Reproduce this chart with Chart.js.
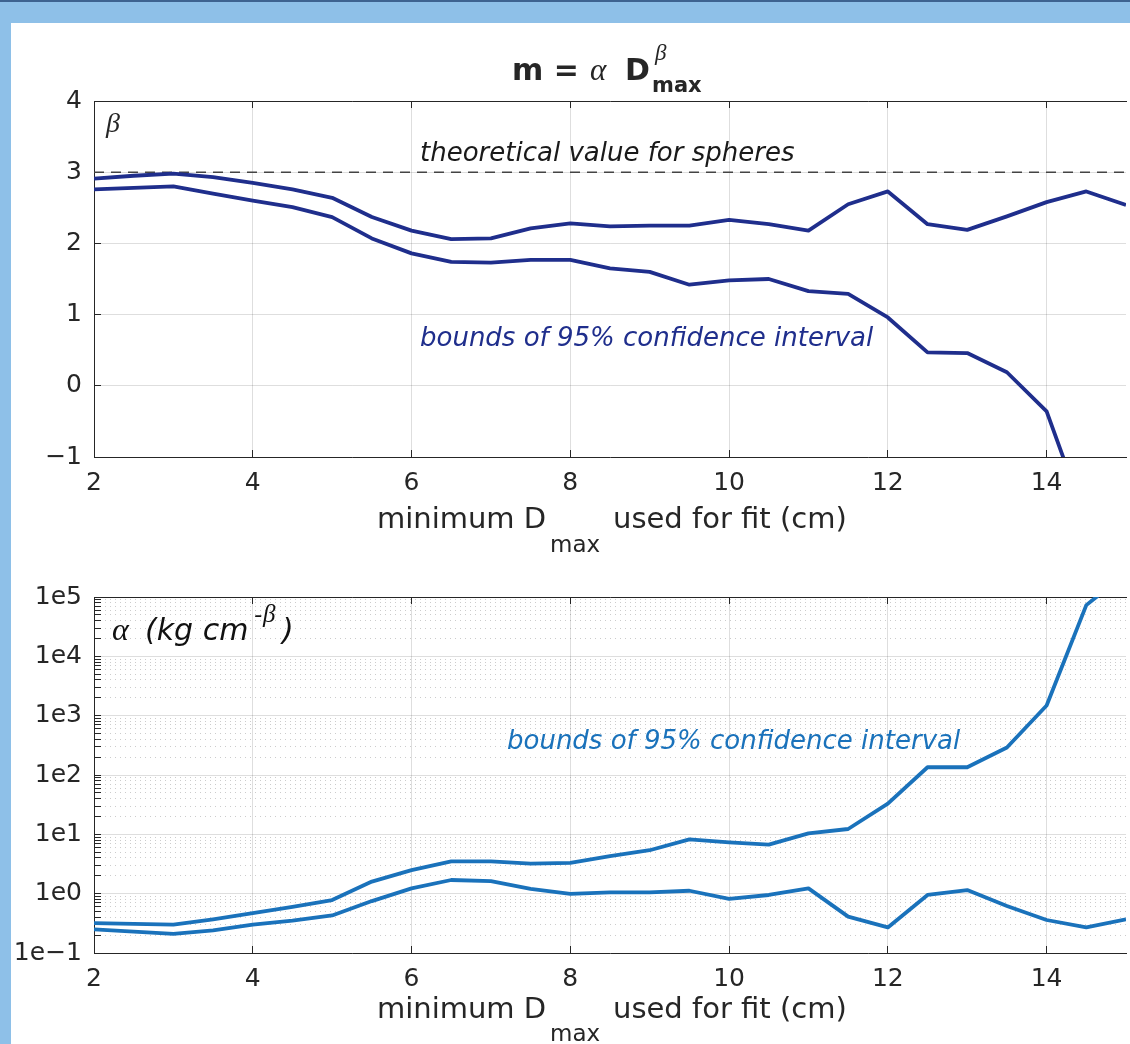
<!DOCTYPE html>
<html>
<head>
<meta charset="utf-8">
<title>m = α D^β max</title>
<script src="https://cdn.jsdelivr.net/npm/chart.js@4.4.1/dist/chart.umd.min.js"></script>
<style>
  body { margin: 0; width: 1130px; height: 1044px; overflow: hidden; position: relative; background: #8ec0e8; font-family: "DejaVu Sans", sans-serif; }
  #frame { position: absolute; left: 11px; top: 23px; width: 1119px; height: 1021px; background: #fff; }
  #edge { position: absolute; left: 0; top: 0; width: 1130px; height: 2px; background: #3e6390; }
  canvas { position: absolute; left: 0; }
  .lbl { position: absolute; white-space: nowrap; line-height: 1; color: #262626; }
  .mk { display: inline-block; width: 0; height: 0; vertical-align: baseline; }
  .gr { font-family: "Liberation Serif", serif; font-style: italic; font-weight: normal; }
</style>
</head>
<body>
<div id="edge"></div>
<div id="frame"></div>
<canvas id="betaChart" width="1130" height="420"></canvas>
<canvas id="alphaChart" width="1130" height="420"></canvas>
<script>
// datos
const xs = [2, 2.5, 3, 3.5, 4, 4.5, 5, 5.5, 6, 6.5, 7, 7.5, 8, 8.5, 9, 9.5, 10, 10.5, 11, 11.5, 12, 12.5, 13, 13.5, 14, 14.5, 15]

const betaUpper = [2.91, 2.95, 2.98, 2.93, 2.85, 2.76, 2.64, 2.37, 2.18, 2.06, 2.07, 2.21, 2.28, 2.24, 2.25, 2.25, 2.33, 2.27, 2.18, 2.55, 2.73, 2.27, 2.19, 2.38, 2.58, 2.73, 2.54]
const betaLower = [2.76, 2.78, 2.80, 2.70, 2.60, 2.51, 2.37, 2.07, 1.86, 1.74, 1.73, 1.77, 1.77, 1.65, 1.60, 1.42, 1.48, 1.50, 1.33, 1.29, 0.96, 0.47, 0.46, 0.19, -0.36, -1.9, -3.4]
const betaSphere = 3

const alphaUpper = [0.32, 0.31, 0.30, 0.37, 0.47, 0.60, 0.78, 1.6, 2.5, 3.5, 3.5, 3.2, 3.3, 4.3, 5.4, 8.2, 7.3, 6.7, 10.4, 12.3, 33, 135, 135, 290, 1480, 73000, 250000]
const alphaLower = [0.25, 0.23, 0.21, 0.24, 0.30, 0.35, 0.43, 0.75, 1.23, 1.7, 1.63, 1.2, 0.99, 1.05, 1.05, 1.12, 0.82, 0.95, 1.23, 0.41, 0.27, 0.95, 1.15, 0.62, 0.36, 0.27, 0.37]

const xTicks = [2, 4, 6, 8, 10, 12, 14]
const betaTicks = [-1, 0, 1, 2, 3, 4]
const alphaDecades = [-1, 0, 1, 2, 3, 4, 5]

const navy = '#1f2e8c'
const blue = '#1a72bb'
const ink = '#262626'
const tickFont = { family: 'DejaVu Sans', size: 25 }

const pts = ys => xs.map((x, i) => ({ x: x, y: ys[i] }))

// ticks del eje log: 1..9 x 10^n, solo las decadas son "major"
const alphaTickList = []
alphaDecades.forEach(e => {
    for (let m = 1; m <= 9; m++) {
        if (e === alphaDecades[alphaDecades.length - 1] && m > 1) break
        alphaTickList.push({ value: m * Math.pow(10, e), major: m === 1 })
    }
})

function xAxis() {
    return {
        type: 'linear', min: 2, max: 15,
        afterBuildTicks: s => { s.ticks = xTicks.map(v => ({ value: v })) },
        afterFit: s => { s.height = 52 },
        grid: { color: 'rgba(0,0,0,0.13)', tickColor: ink, tickLength: -7 },
        border: { color: ink, width: 1 },
        ticks: { color: ink, font: tickFont, padding: 18, maxRotation: 0, autoSkip: false }
    }
}

function topAxis() {
    return {
        type: 'linear', position: 'top', min: 2, max: 15,
        afterBuildTicks: s => { s.ticks = xTicks.map(v => ({ value: v })) },
        afterFit: s => { s.height = 0 },
        grid: { drawOnChartArea: false, tickColor: ink, tickLength: -7 },
        border: { color: ink, width: 1 },
        ticks: { display: false }
    }
}

function baseOptions(yAxis) {
    return {
        responsive: false,
        maintainAspectRatio: false,
        animation: false,
        layout: { padding: { top: 13, right: 4, left: 0, bottom: 0 } },
        elements: { point: { radius: 0 }, line: { tension: 0, borderJoinStyle: 'round' } },
        plugins: { legend: { display: false }, tooltip: { enabled: false } },
        scales: { x: xAxis(), xTop: topAxis(), y: yAxis }
    }
}

const betaConfig = () => ({
    type: 'line',
    data: {
        datasets: [
            { data: pts(betaUpper), borderColor: navy, borderWidth: 3.8 },
            { data: pts(betaLower), borderColor: navy, borderWidth: 3.8 },
            { data: [{ x: xs[0], y: betaSphere }, { x: xs[xs.length - 1], y: betaSphere }], borderColor: '#444', borderWidth: 1.6, borderDash: [10, 7] }
        ]
    },
    options: baseOptions({
        type: 'linear', min: -1, max: 4,
        afterBuildTicks: s => { s.ticks = betaTicks.map(v => ({ value: v })) },
        afterFit: s => { s.width = 94 },
        grid: { color: 'rgba(0,0,0,0.13)', tickColor: ink, tickLength: -7 },
        border: { color: ink, width: 1 },
        ticks: { color: ink, font: tickFont, padding: 19, autoSkip: false, callback: v => v < 0 ? '\u2212' + Math.abs(v) : String(v) }
    })
})

const alphaConfig = () => ({
    type: 'line',
    data: {
        datasets: [
            { data: pts(alphaUpper), borderColor: blue, borderWidth: 3.8 },
            { data: pts(alphaLower), borderColor: blue, borderWidth: 3.8 }
        ]
    },
    options: baseOptions({
        type: 'logarithmic', min: 0.1, max: 1e5,
        afterBuildTicks: s => { s.ticks = alphaTickList.map(t => ({ value: t.value, major: t.major })) },
        afterFit: s => { s.width = 94 },
        grid: {
            color: c => (c.tick && !c.tick.major) ? 'rgba(0,0,0,0.2)' : 'rgba(0,0,0,0.13)',
            tickColor: ink, tickLength: -7
        },
        border: { color: ink, width: 1, dash: c => (c.tick && !c.tick.major) ? [1, 4] : [] },
        ticks: {
            color: ink, font: tickFont, padding: 19, autoSkip: false,
            callback: (v, i, t) => t[i].major ? '1e' + String(Math.round(Math.log10(v))).replace('-', '\u2212') : ''
        }
    })
})

// area de trazado fija: alto 356 px, arriba en areaTop
function build(id, makeConfig, areaTop) {
    const cv = document.getElementById(id)
    let chart = new Chart(cv, makeConfig())
    const dh = 356 - (chart.chartArea.bottom - chart.chartArea.top)
    if (dh !== 0) {
        chart.destroy()
        cv.height = cv.height + dh
        chart = new Chart(cv, makeConfig())
    }
    cv.style.top = (areaTop - chart.chartArea.top) + 'px'
    return chart
}

const betaChart = build('betaChart', betaConfig, 101)
const alphaChart = build('alphaChart', alphaConfig, 597)

// textos (posicion por linea base)
const sans = '"DejaVu Sans", sans-serif'
const textos = [
    { html: 'm =', x: 512, base: 80, font: 'bold 30px ' + sans },
    { html: '<span class="gr">α</span>', x: 590, base: 80, font: '31px ' + sans },
    { html: 'D', x: 625, base: 80, font: 'bold 30px ' + sans },
    { html: '<span class="gr">β</span>', x: 655, base: 60, font: '23px ' + sans },
    { html: 'max', x: 652, base: 92, font: 'bold 21px ' + sans },

    { html: '<span class="gr">β</span>', x: 106, base: 132, font: '28px ' + sans },
    { html: 'theoretical value for spheres', x: 420, base: 161, font: 'oblique 26px ' + sans, color: '#1a1a1a' },
    { html: 'bounds of 95% confidence interval', x: 420, base: 346, font: 'oblique 26px ' + sans, color: navy },
    { html: 'minimum D', x: 377, base: 528, font: '29px ' + sans },
    { html: 'max', x: 550, base: 552, font: '23px ' + sans },
    { html: 'used for fit (cm)', x: 613, base: 528, font: '29px ' + sans },

    { html: '<span class="gr" style="font-size:32px">α</span>', x: 112, base: 640, font: '30px ' + sans, color: '#111' },
    { html: '(kg cm', x: 145, base: 640, font: 'oblique 30px ' + sans, color: '#111' },
    { html: '-', x: 254, base: 622, font: 'oblique 23px ' + sans, color: '#111' },
    { html: '<span class="gr">β</span>', x: 263, base: 622, font: '25px ' + sans, color: '#111' },
    { html: ')', x: 282, base: 640, font: 'oblique 30px ' + sans, color: '#111' },
    { html: 'bounds of 95% confidence interval', x: 507, base: 749, font: 'oblique 26px ' + sans, color: blue },
    { html: 'minimum D', x: 377, base: 1018, font: '29px ' + sans },
    { html: 'max', x: 550, base: 1041, font: '23px ' + sans },
    { html: 'used for fit (cm)', x: 613, base: 1018, font: '29px ' + sans }
]

textos.forEach(t => {
    const d = document.createElement('div')
    d.className = 'lbl'
    d.style.font = t.font
    d.style.lineHeight = '1'
    d.style.left = t.x + 'px'
    d.style.top = '0px'
    if (t.color) d.style.color = t.color
    d.innerHTML = '<span class="mk"></span>' + t.html
    document.body.appendChild(d)
    const off = d.querySelector('.mk').getBoundingClientRect().top - d.getBoundingClientRect().top
    d.style.top = (t.base - off) + 'px'
})
</script>
</body>
</html>
